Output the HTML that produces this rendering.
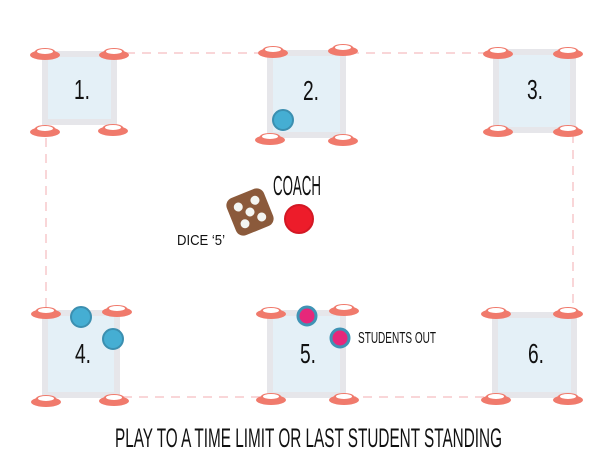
<!DOCTYPE html>
<html><head><style>html,body{margin:0;padding:0;background:#fff}</style></head><body>
<svg width="613" height="461" viewBox="0 0 613 461" xmlns="http://www.w3.org/2000/svg">
<defs>
<g id="cone">
<ellipse cx="0" cy="2" rx="15" ry="5" fill="#f07a6c"/>
<path d="M-11,0 Q-10,-5 0,-5 Q10,-5 11,0 Z" fill="#f07a6c"/>
<ellipse cx="0" cy="-1.5" rx="8" ry="2.5" fill="#fff"/>
</g>
</defs>
<rect x="46" y="53" width="527" height="344" fill="none" stroke="#f7c9cc" stroke-width="1.5" stroke-dasharray="9,7"/>
<g fill="#e6e6ea">
<rect x="42" y="51" width="75" height="74"/>
<rect x="267" y="50" width="79" height="88"/>
<rect x="493" y="49" width="83" height="84"/>
<rect x="42" y="310" width="78" height="88"/>
<rect x="267" y="310" width="79" height="88"/>
<rect x="492" y="312" width="85" height="86"/>
</g>
<g fill="#e4f0f7">
<rect x="48" y="57" width="63" height="62"/>
<rect x="273" y="56" width="67" height="76"/>
<rect x="499" y="55" width="71" height="72"/>
<rect x="48" y="316" width="66" height="76"/>
<rect x="273" y="316" width="67" height="76"/>
<rect x="498" y="318" width="73" height="74"/>
</g>
<g font-family="Liberation Sans Narrow, Liberation Sans, sans-serif" font-size="28" fill="#111" text-anchor="middle">
<text x="82" y="99" textLength="16" lengthAdjust="spacingAndGlyphs">1.</text>
<text x="311" y="100" textLength="16" lengthAdjust="spacingAndGlyphs">2.</text>
<text x="535" y="99" textLength="16" lengthAdjust="spacingAndGlyphs">3.</text>
<text x="83" y="363" textLength="16" lengthAdjust="spacingAndGlyphs">4.</text>
<text x="308" y="363" textLength="16" lengthAdjust="spacingAndGlyphs">5.</text>
<text x="536" y="363" textLength="16" lengthAdjust="spacingAndGlyphs">6.</text>
</g>
<g>
<use href="#cone" x="45" y="53"/><use href="#cone" x="114" y="53"/><use href="#cone" x="45" y="130"/><use href="#cone" x="113" y="129"/>
<use href="#cone" x="273" y="51"/><use href="#cone" x="343" y="49"/><use href="#cone" x="270" y="138"/><use href="#cone" x="343" y="139"/>
<use href="#cone" x="498" y="52"/><use href="#cone" x="568" y="52"/><use href="#cone" x="498" y="130"/><use href="#cone" x="568" y="130"/>
<use href="#cone" x="46" y="312"/><use href="#cone" x="117" y="310"/><use href="#cone" x="46" y="400"/><use href="#cone" x="114" y="399"/>
<use href="#cone" x="271" y="312"/><use href="#cone" x="344" y="309"/><use href="#cone" x="271" y="398"/><use href="#cone" x="344" y="398"/>
<use href="#cone" x="496" y="312"/><use href="#cone" x="568" y="312"/><use href="#cone" x="496" y="398"/><use href="#cone" x="568" y="398"/>
</g>
<g fill="#45aed3" stroke="#3b8fb0" stroke-width="2">
<circle cx="283" cy="120" r="10"/>
<circle cx="81" cy="317" r="10"/>
<circle cx="113" cy="339" r="10"/>
</g>
<g fill="#e6277a" stroke="#3f93b5" stroke-width="3">
<circle cx="307" cy="316" r="9"/>
<circle cx="340" cy="338" r="9"/>
</g>
<circle cx="299" cy="219" r="14" fill="#ed1c2a" stroke="#d31824" stroke-width="2"/>
<g transform="translate(250,212) rotate(-22)">
<rect x="-20" y="-20" width="40" height="40" rx="8" fill="#8b5a3b"/>
<g fill="#f4f6f2">
<circle cx="-9" cy="-9" r="4.5"/><circle cx="9" cy="-9" r="4.5"/><circle cx="0" cy="0" r="4.5"/><circle cx="-9" cy="9" r="4.5"/><circle cx="9" cy="9" r="4.5"/>
</g>
</g>
<g font-family="Liberation Sans Narrow, Liberation Sans, sans-serif" fill="#111">
<text x="273" y="195" font-size="28" textLength="48" lengthAdjust="spacingAndGlyphs">COACH</text>
<text x="177" y="245" font-size="15" textLength="48" lengthAdjust="spacingAndGlyphs">DICE ‘5’</text>
<text x="358" y="343" font-size="16" textLength="78" lengthAdjust="spacingAndGlyphs">STUDENTS OUT</text>
<text x="115" y="447" font-size="27" textLength="387" lengthAdjust="spacingAndGlyphs">PLAY TO A TIME LIMIT OR LAST STUDENT STANDING</text>
</g>
</svg>
</body></html>
